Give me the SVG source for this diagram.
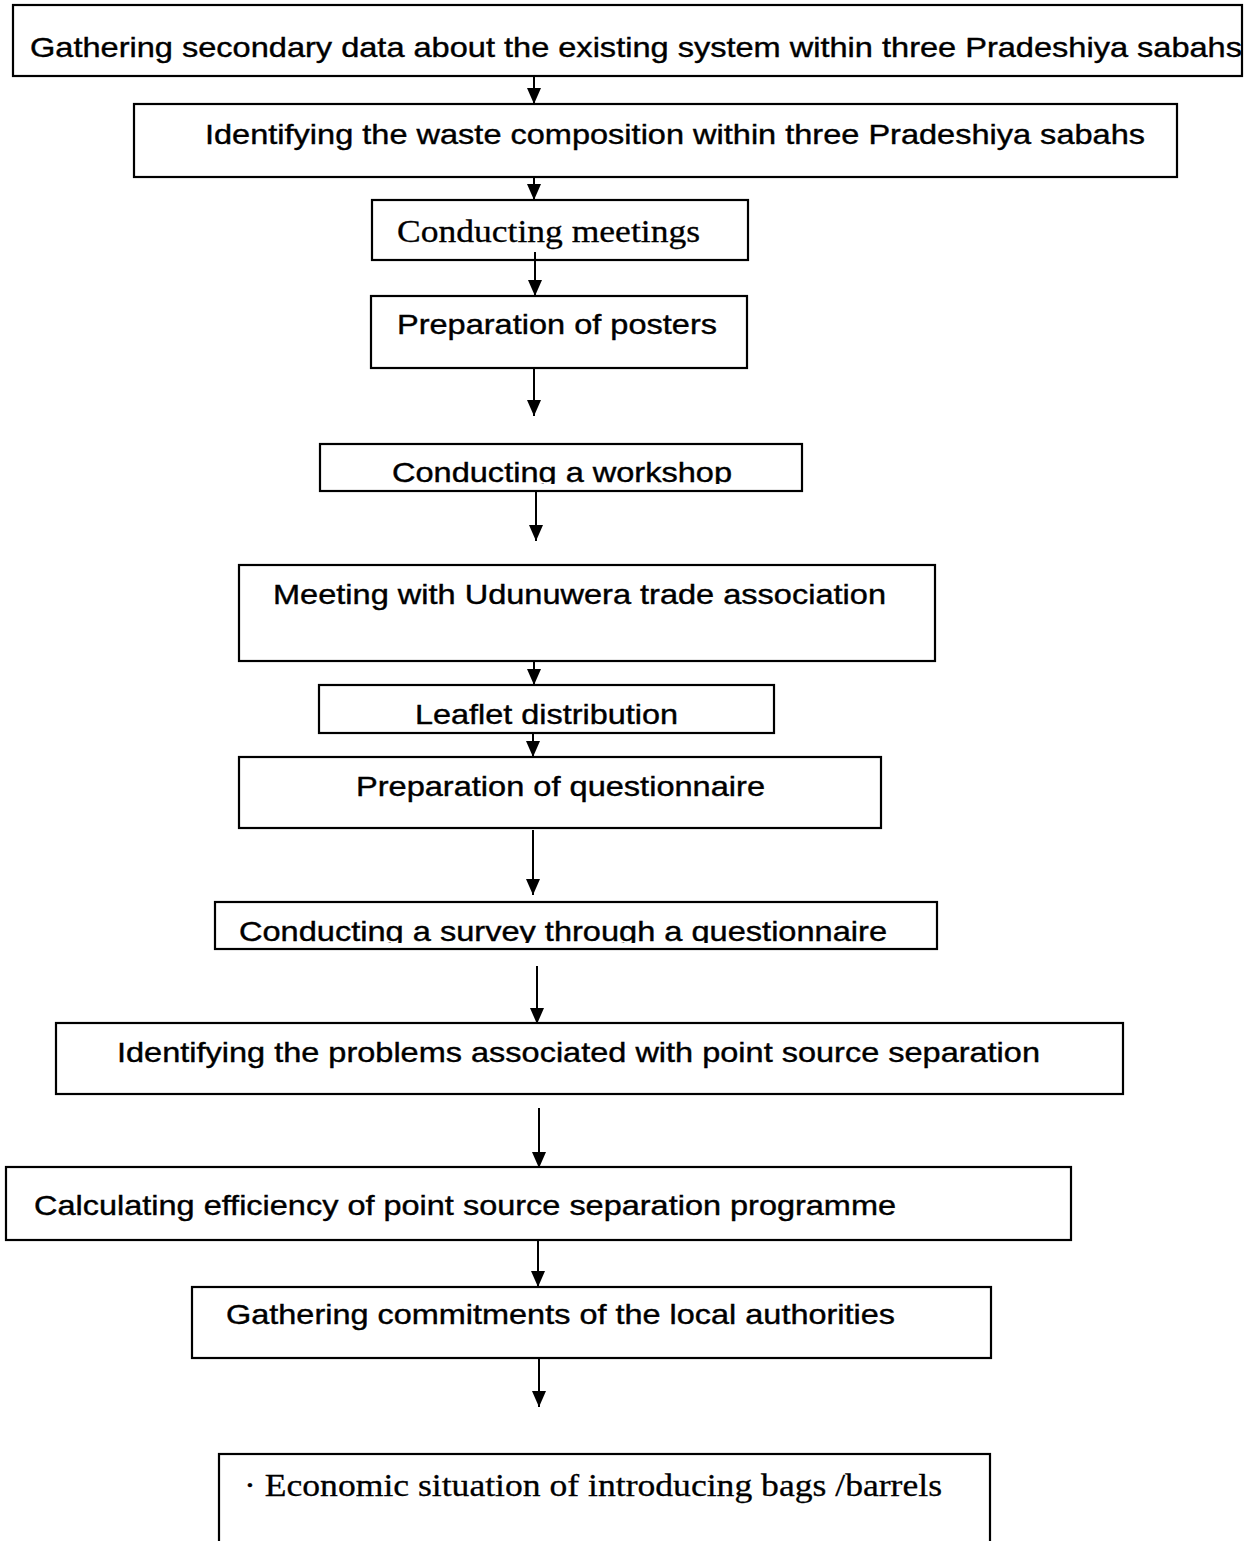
<svg xmlns="http://www.w3.org/2000/svg" width="1247" height="1541" viewBox="0 0 1247 1541">
<style>
.box{fill:#fff;stroke:#000;stroke-width:2.2}
.s{font-family:"Liberation Sans",Arial,sans-serif;font-size:28px;fill:#000;stroke:#000;stroke-width:0.4}
.r{font-family:"Liberation Serif","Times New Roman",serif;font-size:31px;fill:#000;stroke:#000;stroke-width:0.3}
.c line{stroke:#000;stroke-width:2}
</style>
<defs>
<marker id="ah" markerWidth="16" markerHeight="14" refX="16" refY="7" orient="auto" markerUnits="userSpaceOnUse" viewBox="0 0 16 14">
<path d="M0,0 L16,7 L0,14 Z" fill="#000"/>
</marker>
<clipPath id="cp5"><rect x="320" y="444" width="482" height="40"/></clipPath>
<clipPath id="cp9"><rect x="215" y="902" width="722" height="41"/></clipPath>
</defs>
<rect width="1247" height="1541" fill="#fff"/>

<g id="n1"><rect class="box" x="13" y="5" width="1229" height="71"/><text class="s" x="30" y="57" font-size="29" textLength="1212" lengthAdjust="spacingAndGlyphs">Gathering secondary data about the existing system within three Pradeshiya sabahs</text></g>
<g id="n2"><rect class="box" x="134" y="104" width="1043" height="73"/><text class="s" x="205" y="144" textLength="940" lengthAdjust="spacingAndGlyphs">Identifying the waste composition within three Pradeshiya sabahs</text></g>
<g id="n3"><rect class="box" x="372" y="200" width="376" height="60"/><text class="r" x="397" y="242" textLength="303" lengthAdjust="spacingAndGlyphs">Conducting meetings</text></g>
<g id="n4"><rect class="box" x="371" y="296" width="376" height="72"/><text class="s" x="397" y="334" font-size="27" textLength="320" lengthAdjust="spacingAndGlyphs">Preparation of posters</text></g>
<g id="n5"><rect class="box" x="320" y="444" width="482" height="47"/><text class="s" x="392" y="482" font-size="27" textLength="340" lengthAdjust="spacingAndGlyphs" clip-path="url(#cp5)">Conducting a workshop</text></g>
<g id="n6"><rect class="box" x="239" y="565" width="696" height="96"/><text class="s" x="273" y="604" textLength="613" lengthAdjust="spacingAndGlyphs">Meeting with Udunuwera trade association</text></g>
<g id="n7"><rect class="box" x="319" y="685" width="455" height="48"/><text class="s" x="415" y="724" textLength="263" lengthAdjust="spacingAndGlyphs">Leaflet distribution</text></g>
<g id="n8"><rect class="box" x="239" y="757" width="642" height="71"/><text class="s" x="356" y="796" textLength="409" lengthAdjust="spacingAndGlyphs">Preparation of questionnaire</text></g>
<g id="n9"><rect class="box" x="215" y="902" width="722" height="47"/><text class="s" x="239" y="941" textLength="648" lengthAdjust="spacingAndGlyphs" clip-path="url(#cp9)">Conducting a survey through a questionnaire</text></g>
<g id="n10"><rect class="box" x="56" y="1023" width="1067" height="71"/><text class="s" x="117" y="1062" textLength="923" lengthAdjust="spacingAndGlyphs">Identifying the problems associated with point source separation</text></g>
<g id="n11"><rect class="box" x="6" y="1167" width="1065" height="73"/><text class="s" x="34" y="1215" font-size="29" textLength="862" lengthAdjust="spacingAndGlyphs">Calculating efficiency of point source separation programme</text></g>
<g id="n12"><rect class="box" x="192" y="1287" width="799" height="71"/><text class="s" x="226" y="1324" textLength="669" lengthAdjust="spacingAndGlyphs">Gathering commitments of the local authorities</text></g>
<g id="n13"><rect class="box" x="219" y="1454" width="771" height="100"/><text class="r" x="244" y="1496" textLength="698" lengthAdjust="spacingAndGlyphs">· Economic situation of introducing bags /barrels</text></g>

<g id="connectors" class="c">
<line x1="534" y1="77" x2="534" y2="104" marker-end="url(#ah)"/>
<line x1="534" y1="178" x2="534" y2="200" marker-end="url(#ah)"/>
<line x1="535" y1="252" x2="535" y2="296" marker-end="url(#ah)"/>
<line x1="534" y1="369" x2="534" y2="416" marker-end="url(#ah)"/>
<line x1="536" y1="491" x2="536" y2="541" marker-end="url(#ah)"/>
<line x1="534" y1="662" x2="534" y2="685" marker-end="url(#ah)"/>
<line x1="533" y1="734" x2="533" y2="757" marker-end="url(#ah)"/>
<line x1="533" y1="830" x2="533" y2="895" marker-end="url(#ah)"/>
<line x1="537" y1="966" x2="537" y2="1024" marker-end="url(#ah)"/>
<line x1="539" y1="1108" x2="539" y2="1168" marker-end="url(#ah)"/>
<line x1="538" y1="1241" x2="538" y2="1287" marker-end="url(#ah)"/>
<line x1="539" y1="1359" x2="539" y2="1407" marker-end="url(#ah)"/>
</g>
</svg>
